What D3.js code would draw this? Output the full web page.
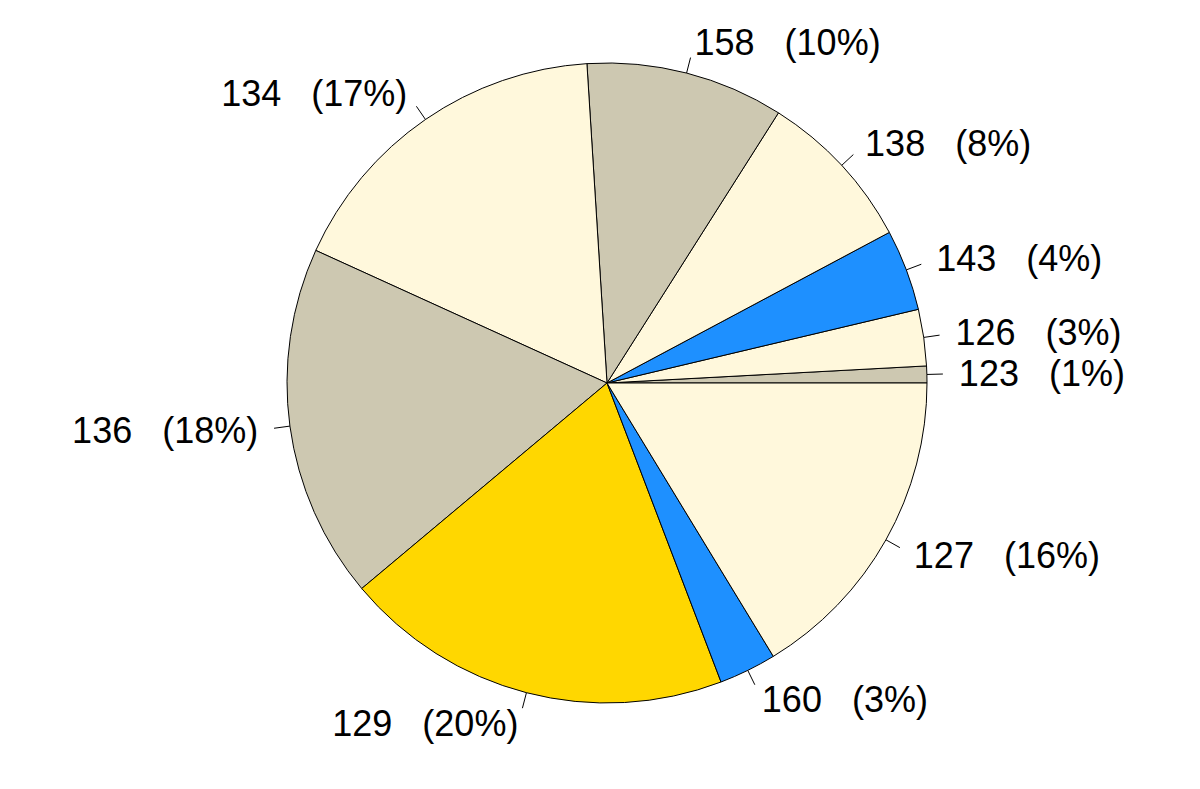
<!DOCTYPE html><html><head><meta charset="utf-8">
<script src="https://cdn.jsdelivr.net/npm/d3@7"></script>
<style>body{margin:0;background:#fff}</style></head><body>
<svg id="c" width="1200" height="789"></svg>
<script>
const labels = ["123","126","143","138","158","134","136","129","160","127"];
const shares = [0.85,2.85,4.1,8.2,10,17.2,17.9,19.7,2.9,16.3];
const pctLabels = ["1%","3%","4%","8%","10%","17%","18%","20%","3%","16%"];
const colors = ["#CDC8B1","#FFF8DC","#1E90FF","#FFF8DC","#CDC8B1","#FFF8DC","#CDC8B1","#FFD700","#1E90FF","#FFF8DC"];

const svg = d3.select("#c");
const cx = 607, cy = 383, r = 320;
const total = d3.sum(shares);
const ang = d3.scaleLinear().domain([0,total]).range([0,2*Math.PI]);
const g = svg.append("g").attr("transform",`translate(${cx},${cy})`);
let cum = 0;
shares.forEach((v,i)=>{
  const a0 = ang(cum), a1 = ang(cum+v); cum += v;
  // R: counterclockwise from 3 o'clock; d3.arc: clockwise from 12 o'clock
  const arc = d3.arc().innerRadius(0).outerRadius(r)
    .startAngle(Math.PI/2 - a1).endAngle(Math.PI/2 - a0);
  g.append("path").attr("d",arc()).attr("fill",colors[i]).attr("stroke","#000").attr("stroke-width",1);
  const m = (a0+a1)/2, c = Math.cos(m), s = -Math.sin(m);
  g.append("line").attr("x1",r*c).attr("y1",r*s).attr("x2",1.05*r*c).attr("y2",1.05*r*s)
    .attr("stroke","#000").attr("stroke-width",1);
  g.append("text").attr("x",1.1*r*c).attr("y",1.1*r*s).attr("dy","0.35em")
    .attr("text-anchor", c>0?"start":"end")
    .attr("font-family","Liberation Sans, Arial, sans-serif").attr("font-size",36)
    .style("white-space","pre")
    .text(labels[i]+"   ("+pctLabels[i]+")");
});
</script></body></html>
